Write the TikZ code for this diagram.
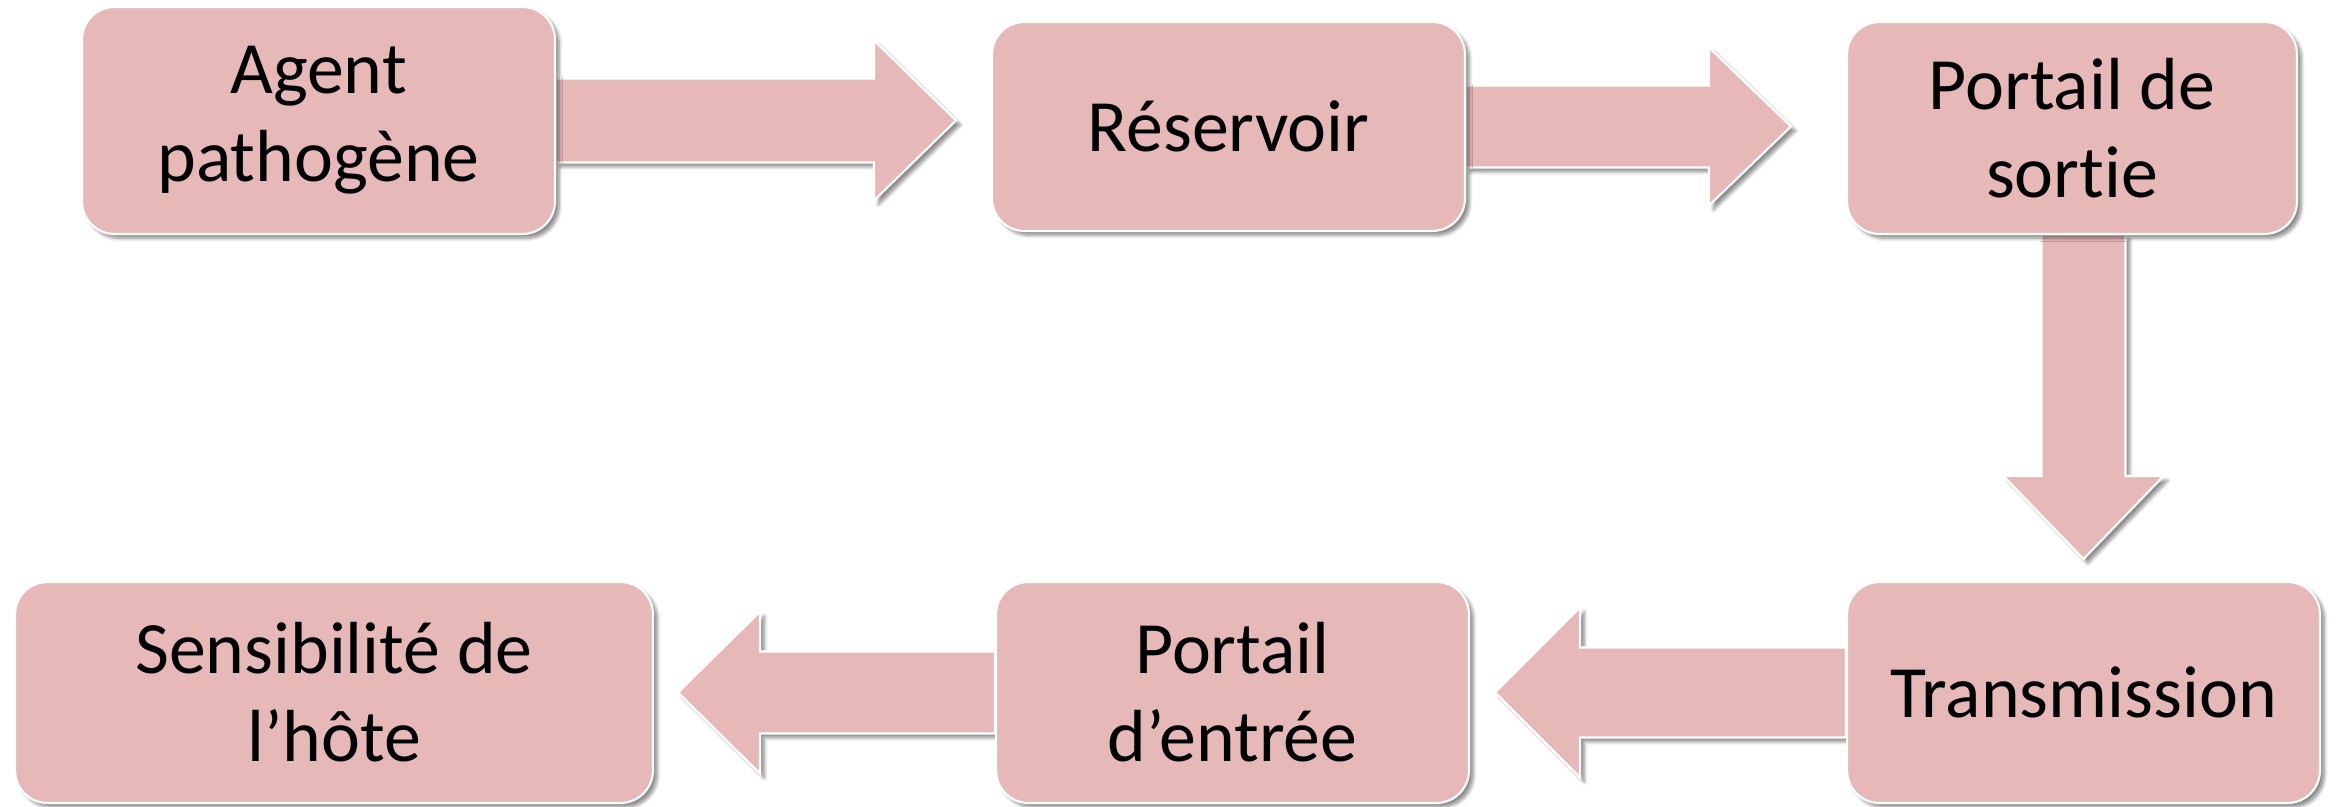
\documentclass[tikz,border=0pt]{standalone}
\usepackage{fontspec}
\setmainfont{Carlito}[Ligatures=NoCommon]
\usetikzlibrary{shadows.blur}
\definecolor{boxfill}{HTML}{E6B8B7}
\pgfdeclarelayer{background}
\pgfsetlayers{background,main}
\tikzset{
  softshadow/.style={blur shadow={shadow xshift=2.5pt, shadow yshift=-2.5pt, shadow blur steps=6, shadow opacity=45}},
  stage/.style={rectangle, rounded corners=0.65cm, fill=boxfill, draw=white, line width=1.2pt, softshadow,
    align=center, font=\fontsize{42}{50}\selectfont, inner sep=0pt},
  blockarrow/.style={fill=boxfill, draw=white, line width=1.2pt, softshadow},
}
\newcommand\blockarr[6]{%
  \begin{scope}[shift={(#1)}, rotate=#2]
    \path[blockarrow] (0,-#5) -- ({#3-#4},-#5) -- ({#3-#4},-#6) -- (#3,0) -- ({#3-#4},#6) -- ({#3-#4},#5) -- (0,#5) -- cycle;
  \end{scope}}
\begin{document}
\begin{tikzpicture}[x=0.02cm,y=0.02cm]
  \useasboundingbox (0,0) rectangle (2339,807);
  \node[stage, minimum width=9.46cm, minimum height=4.54cm] (b1) at (318.5,686.5) {Agent\\pathogène};
  \node[stage, minimum width=9.46cm, minimum height=4.18cm] (b2) at (1228.5,680.5) {Réservoir};
  \node[stage, minimum width=9.0cm, minimum height=4.24cm] (b3) at (2072,679) {Portail de\\sortie};
  \node[stage, minimum width=9.46cm, minimum height=4.42cm] (b4) at (2083.5,114.5) {Transmission};
  \node[stage, minimum width=9.46cm, minimum height=4.42cm] (b5) at (1232.5,114.5) {Portail\\d’entrée};
  \node[stage, minimum width=12.76cm, minimum height=4.42cm] (b6) at (334,114.5) {Sensibilité de\\l’hôte};
  \coordinate (a3) at (b4.north |- b3.south);
  \begin{pgfonlayer}{background}
    \blockarr{b1.east}{0}{400}{82}{42}{80}
    \blockarr{b2.east}{0}{325}{82}{41}{79}
    \blockarr{a3}{-90}{324}{83}{42}{80}
    \blockarr{b4.west}{180}{351}{85}{45}{85}
    \blockarr{b5.west}{180}{317}{82}{41}{81}
  \end{pgfonlayer}
\end{tikzpicture}
\end{document}
